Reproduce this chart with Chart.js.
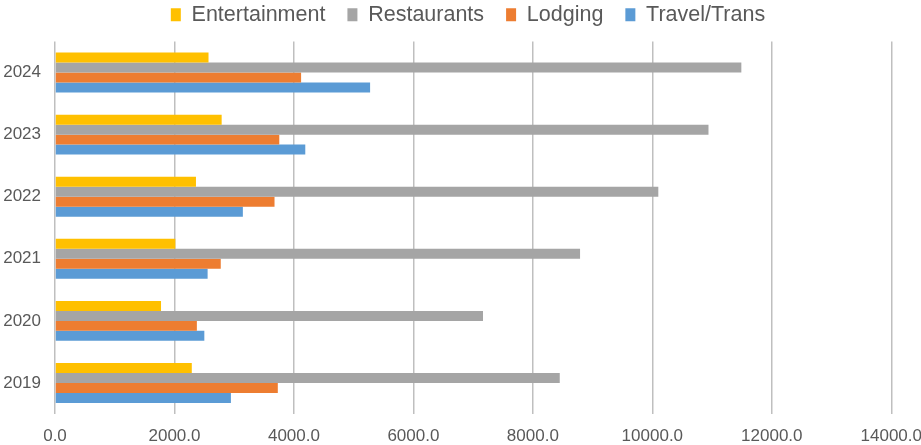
<!DOCTYPE html>
<html lang="en">
<head>
  <meta charset="UTF-8" />
  <title>Spending by category</title>
  <script src="https://cdn.jsdelivr.net/npm/chart.js"></script>
  <style>
    html, body { margin: 0; padding: 0; background: #ffffff; overflow: hidden; }
    #wrap { width: 934px; height: 445px; }
  </style>
</head>
<body>
  <div id="wrap"><canvas id="spendChart"></canvas></div>

  <script>
  // years, top to bottom as shown
  const years = ['2024', '2023', '2022', '2021', '2020', '2019'];

  const entertainment = [2570, 2790, 2360, 2015, 1775, 2290];
  const restaurants   = [11490, 10940, 10100, 8790, 7165, 8450];
  const lodging       = [4120, 3755, 3675, 2775, 2375, 3730];
  const travelTrans   = [5275, 4190, 3145, 2555, 2500, 2945];

  const xTicks = [0, 2000, 4000, 6000, 8000, 10000, 12000, 14000];

  const ctx = document.getElementById('spendChart').getContext('2d');

  new Chart(ctx, {
    type: 'bar',
    data: {
      labels: years,
      datasets: [
        { label: 'Entertainment', data: entertainment, backgroundColor: '#FFC000' },
        { label: 'Restaurants', data: restaurants, backgroundColor: '#A5A5A5' },
        { label: 'Lodging', data: lodging, backgroundColor: '#ED7D31' },
        { label: 'Travel/Trans', data: travelTrans, backgroundColor: '#5B9BD5' }
      ]
    },
    options: {
      indexAxis: 'y',
      responsive: true,
      maintainAspectRatio: false,
      animation: false,
      layout: { padding: { left: 2, right: 0, top: -18, bottom: 0 } },
      datasets: {
        bar: { barPercentage: 1, categoryPercentage: 0.642, borderWidth: 0 }
      },
      plugins: {
        tooltip: { enabled: false },
        // empty title used as a small gap under the legend
        title: {
          display: true,
          text: ' ',
          position: 'top',
          weight: 500,
          font: { size: 1, lineHeight: 1 },
          padding: { top: 0, bottom: 5 }
        },
        legend: {
          display: true,
          position: 'top',
          labels: {
            color: '#595959',
            font: { family: 'Liberation Sans', size: 21.5 },
            boxWidth: 10,
            boxHeight: 13,
            padding: 22
          }
        }
      },
      scales: {
        x: {
          min: 0,
          max: 14000,
          afterBuildTicks: (axis) => { axis.ticks = xTicks.map(v => ({ value: v })); },
          afterFit: (axis) => { axis.height = 31; },
          grid: { color: '#BFBFBF', lineWidth: 1.5, drawTicks: false },
          border: { display: false },
          ticks: {
            color: '#595959',
            font: { family: 'Liberation Sans', size: 17 },
            padding: 12,
            maxRotation: 0,
            callback: (v) => Number(v).toFixed(1)
          }
        },
        y: {
          afterFit: (axis) => { axis.width = 53; },
          grid: { display: false, drawTicks: false },
          border: { display: false },
          ticks: {
            color: '#595959',
            font: { family: 'Liberation Sans', size: 17 },
            padding: 14
          }
        }
      }
    }
  });
</script>
</body>
</html>
